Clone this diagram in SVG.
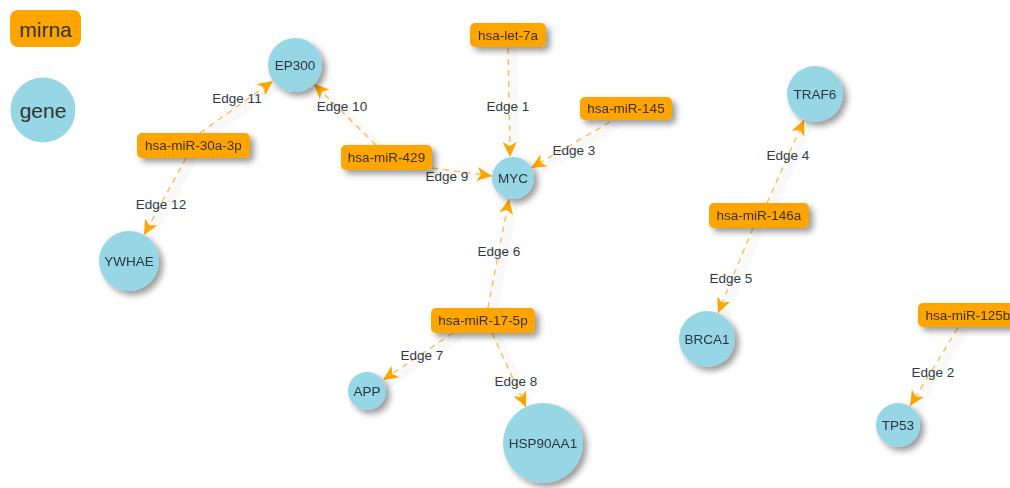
<svg xmlns="http://www.w3.org/2000/svg" width="1010" height="488" viewBox="0 0 1010 488">
<style>
  .mir rect{fill:#FFA500;}
  .mir text{font-family:"Liberation Sans",Arial,sans-serif;font-size:13.5px;fill:#3a3020;text-anchor:middle;dominant-baseline:central;}
  .gene circle{fill:#96D6E5;}
  .gene text{font-family:"Liberation Sans",Arial,sans-serif;font-size:13.5px;fill:#2b3440;text-anchor:middle;dominant-baseline:central;}
  .node{filter:url(#sh);}
  .edge{stroke:#FFBE5A;stroke-width:1.5;stroke-dasharray:6 5;fill:none;marker-end:url(#arr);}
  .eshadow line{stroke:#000;stroke-opacity:0.025;stroke-width:9;stroke-linecap:round;}
  .elabel{font-family:"Liberation Sans",Arial,sans-serif;font-size:13.5px;fill:#2e3a48;text-anchor:middle;dominant-baseline:central;}
  .legend text{font-family:"Liberation Sans",Arial,sans-serif;font-size:21px;fill:#333;text-anchor:middle;dominant-baseline:central;}
</style>
<defs>
  <filter id="sh" x="-30%" y="-30%" width="170%" height="170%">
    <feDropShadow dx="4" dy="4" stdDeviation="3" flood-color="#000" flood-opacity="0.4"/>
  </filter>
  <marker id="arr" markerUnits="userSpaceOnUse" markerWidth="16" markerHeight="14" refX="15" refY="7" orient="auto">
    <path d="M0,0 L15,7 L0,14 L4,7 Z" fill="#FFA500"/>
  </marker>
</defs>
<rect width="1010" height="488" fill="#fff"/>

<g id="legend" class="legend">
  <g id="legend-mirna" class="mir"><rect x="10" y="10" width="71" height="37" rx="8"/><text x="45.5" y="29" style="font-size:21px;fill:#333">mirna</text></g>
  <g id="legend-gene" class="gene"><circle cx="43" cy="110" r="32.5"/><text x="43" y="110" style="font-size:21px;fill:#333">gene</text></g>
</g>

<g id="connectors">
  <g class="eshadow" transform="translate(5,4)">
    <line x1="508" y1="48" x2="510" y2="157"/>
    <line x1="958" y1="328" x2="910" y2="406"/>
    <line x1="610" y1="122" x2="531" y2="168"/>
    <line x1="767" y1="203" x2="804" y2="120"/>
    <line x1="753" y1="228" x2="718" y2="313"/>
    <line x1="488" y1="308" x2="509" y2="199"/>
    <line x1="453" y1="333" x2="383" y2="380"/>
    <line x1="492" y1="333" x2="526" y2="407"/>
    <line x1="432" y1="168" x2="492" y2="176"/>
    <line x1="376" y1="145" x2="314" y2="84"/>
    <line x1="200" y1="133" x2="273" y2="81"/>
    <line x1="186" y1="158" x2="144" y2="235"/>
  </g>
  <line id="e1" class="edge" x1="508" y1="48" x2="510" y2="157"/>
  <line id="e2" class="edge" x1="958" y1="328" x2="910" y2="406"/>
  <line id="e3" class="edge" x1="610" y1="122" x2="531" y2="168"/>
  <line id="e4" class="edge" x1="767" y1="203" x2="804" y2="120"/>
  <line id="e5" class="edge" x1="753" y1="228" x2="718" y2="313"/>
  <line id="e6" class="edge" x1="488" y1="308" x2="509" y2="199"/>
  <line id="e7" class="edge" x1="453" y1="333" x2="383" y2="380"/>
  <line id="e8" class="edge" x1="492" y1="333" x2="526" y2="407"/>
  <line id="e9" class="edge" x1="432" y1="168" x2="492" y2="176"/>
  <line id="e10" class="edge" x1="376" y1="145" x2="314" y2="84"/>
  <line id="e11" class="edge" x1="200" y1="133" x2="273" y2="81"/>
  <line id="e12" class="edge" x1="186" y1="158" x2="144" y2="235"/>
  <text class="elabel" x="508" y="106">Edge 1</text>
  <text class="elabel" x="933" y="372">Edge 2</text>
  <text class="elabel" x="574" y="150">Edge 3</text>
  <text class="elabel" x="788" y="155">Edge 4</text>
  <text class="elabel" x="731" y="278">Edge 5</text>
  <text class="elabel" x="499" y="251">Edge 6</text>
  <text class="elabel" x="422" y="355">Edge 7</text>
  <text class="elabel" x="516" y="381">Edge 8</text>
  <text class="elabel" x="447" y="176">Edge 9</text>
  <text class="elabel" x="342" y="106">Edge 10</text>
  <text class="elabel" x="237" y="98">Edge 11</text>
  <text class="elabel" x="161" y="204">Edge 12</text>
</g>

<g id="n-let7a" class="node mir"><rect x="470" y="23" width="76" height="24" rx="5"/><text x="508" y="35">hsa-let-7a</text></g>
<g id="n-mir145" class="node mir"><rect x="580" y="97" width="92" height="23" rx="5"/><text x="626" y="108.5">hsa-miR-145</text></g>
<g id="n-mir429" class="node mir"><rect x="341" y="145" width="91" height="25" rx="5"/><text x="386.5" y="157.5">hsa-miR-429</text></g>
<g id="n-mir30a" class="node mir"><rect x="137" y="133" width="113" height="25" rx="5"/><text x="193.5" y="145.5">hsa-miR-30a-3p</text></g>
<g id="n-mir146a" class="node mir"><rect x="709" y="203" width="100" height="25" rx="5"/><text x="759" y="215.5">hsa-miR-146a</text></g>
<g id="n-mir17" class="node mir"><rect x="431" y="308" width="104" height="25" rx="5"/><text x="483" y="320.5">hsa-miR-17-5p</text></g>
<g id="n-mir125b" class="node mir"><rect x="918" y="303" width="100" height="24" rx="5"/><text x="968" y="315">hsa-miR-125b</text></g>

<g id="n-ep300" class="node gene"><circle cx="295" cy="65" r="27"/><text x="295" y="65">EP300</text></g>
<g id="n-ywhae" class="node gene"><circle cx="129" cy="261" r="30"/><text x="129" y="261">YWHAE</text></g>
<g id="n-myc" class="node gene"><circle cx="513" cy="178" r="21"/><text x="513" y="178">MYC</text></g>
<g id="n-traf6" class="node gene"><circle cx="815" cy="94" r="28"/><text x="815" y="94">TRAF6</text></g>
<g id="n-brca1" class="node gene"><circle cx="707" cy="339" r="28"/><text x="707" y="339">BRCA1</text></g>
<g id="n-app" class="node gene"><circle cx="367" cy="391" r="19"/><text x="367" y="391">APP</text></g>
<g id="n-hsp90aa1" class="node gene"><circle cx="543" cy="443" r="40"/><text x="543" y="443">HSP90AA1</text></g>
<g id="n-tp53" class="node gene"><circle cx="898" cy="425" r="22"/><text x="898" y="425">TP53</text></g>
</svg>
